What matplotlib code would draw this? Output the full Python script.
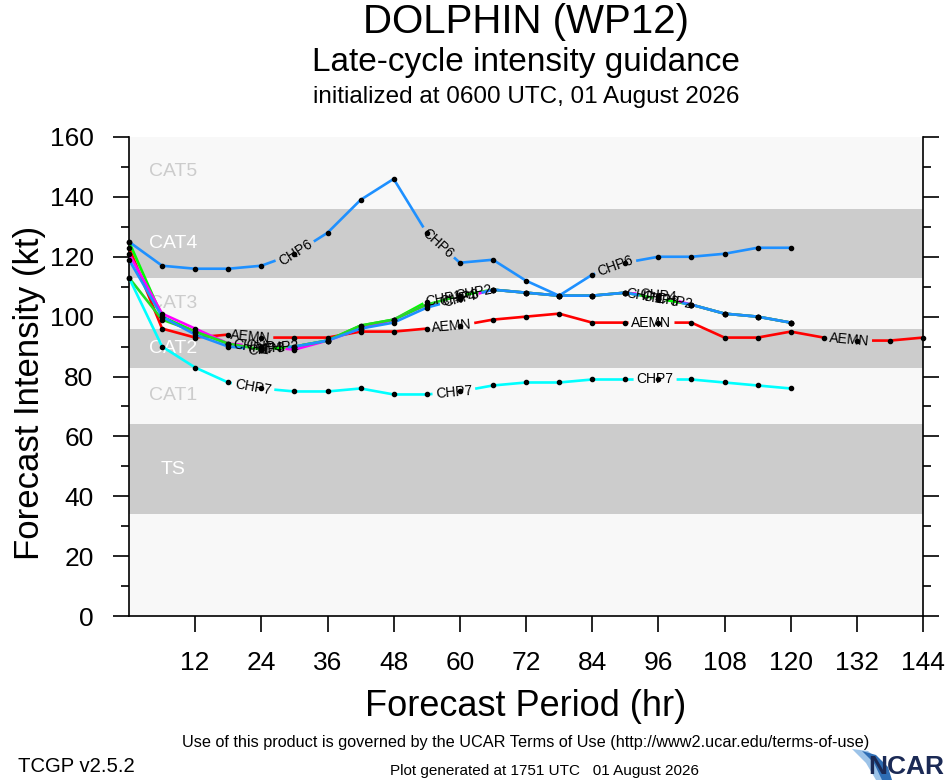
import math
import numpy as np
import matplotlib
matplotlib.use('Agg')
import matplotlib.pyplot as plt
from matplotlib.patches import Polygon

plt.rcParams['font.family'] = ['Liberation Sans', 'DejaVu Sans']

# ---------------- data ----------------
hours = list(range(0, 121, 6))
hours_aemn = list(range(0, 145, 6))

aemn = [123, 96, 93, 94, 93, 93, 93, 95, 95, 96, 97, 99, 100, 101, 98, 98, 98, 98, 93, 93, 95, 93, 92, 92, 93]
chp7 = [113, 90, 83, 78, 76, 75, 75, 76, 74, 74, 75, 77, 78, 78, 79, 79, 79, 79, 78, 77, 76]
chp6 = [125, 117, 116, 116, 117, 121, 128, 139, 146, 128, 118, 119, 112, 107, 114, 118, 120, 120, 121, 123, 123]
chp1 = [125, 100, 95, 91, 89, 90, 92, 97, 99, 105, 107, 109, 108, 107, 107, 108, 106, 104, 101, 100, 98]
chp4 = [121, 101, 96, 91, 90, 89, 92, 96, 99, 104, 106, 109, 108, 107, 107, 108, 107, 104, 101, 100, 98]
chp2 = [113, 99, 95, 91, 89, 90, 92, 97, 99, 104, 107, 109, 108, 107, 107, 108, 106, 104, 101, 100, 98]
chp3 = [119, 100, 94, 90, 89, 90, 92, 96, 98, 103, 106, 109, 108, 107, 107, 108, 106, 104, 101, 100, 98]

series = [
    ("AEMN", hours_aemn, aemn, "#ff0000"),
    ("CHP1", hours, chp1, "#00ff00"),
    ("CHP4", hours, chp4, "#ff00ff"),
    ("CHP2", hours, chp2, "#22dd22"),
    ("CHP3", hours, chp3, "#1e90ff"),
    ("CHP6", hours, chp6, "#1e90ff"),
    ("CHP7", hours, chp7, "#00ffff"),
]

bands_gray = [(34, 64), (83, 96), (113, 136)]
cat_names = ["CAT5", "CAT4", "CAT3", "CAT2", "CAT1", "TS"]
cat_levels = [148.5, 124.5, 104.5, 89.5, 73.5, 49]
cat_on_gray = [False, True, False, True, False, True]

xticks = list(range(12, 145, 12))
yticks = list(range(0, 161, 20))

# ---------------- figure ----------------
W, H = 946, 780
fig = plt.figure(figsize=(W / 100, H / 100), dpi=100)
ax = fig.add_axes([129 / W, 1 - 616 / H, (923 - 129) / W, (616 - 137) / H])
ax.set_xlim(0, 144)
ax.set_ylim(0, 160)
ax.set_facecolor('#f8f8f8')
for lo, hi in bands_gray:
    ax.axhspan(lo, hi, color='#cccccc', lw=0, zorder=0.5)
for name, lev, g in zip(cat_names, cat_levels, cat_on_gray):
    ax.text(8, lev, name, ha='center', va='center', fontsize=14,
            color='white' if g else '#cccccc', zorder=1)

renderer = fig.canvas.get_renderer()
inv = ax.transData.inverted()


def draw_labeled(x, y, color, name, first=177.0, step=202.0, fs=10):
    pts = ax.transData.transform(np.column_stack([x, y]).astype(float))
    seg = np.diff(pts, axis=0)
    seglen = np.hypot(seg[:, 0], seg[:, 1])
    cum = np.concatenate([[0.0], np.cumsum(seglen)])
    total = cum[-1]
    t = ax.text(0, 0, name, fontsize=fs)
    tw = t.get_window_extent(renderer).width
    t.remove()
    half = tw / 2 + 3
    centers = []
    s = first
    while s + half < total:
        centers.append(s)
        s += step

    def point_at(sv):
        i = int(np.searchsorted(cum, sv, side='right') - 1)
        i = min(max(i, 0), len(seglen) - 1)
        f = (sv - cum[i]) / seglen[i] if seglen[i] > 0 else 0.0
        return pts[i] + f * seg[i], i

    intervals = []
    start = 0.0
    for c in centers:
        intervals.append((start, c - half))
        start = c + half
    intervals.append((start, total))
    for a, b in intervals:
        if b <= a:
            continue
        pa, _ = point_at(a)
        pb, _ = point_at(b)
        verts = [pa] + [pts[k] for k in range(len(pts)) if a < cum[k] < b] + [pb]
        d = inv.transform(np.array(verts))
        ax.plot(d[:, 0], d[:, 1], color=color, lw=1.9, solid_capstyle='butt',
                solid_joinstyle='round', zorder=3, clip_on=False)
    ax.plot(x, y, 'o', color='black', ms=3.0, zorder=4, clip_on=False)
    for c in centers:
        p, i = point_at(c)
        ang = math.degrees(math.atan2(seg[i, 1], seg[i, 0]))
        dp = inv.transform(p)
        ax.text(dp[0], dp[1], name, fontsize=fs, rotation=ang, rotation_mode='anchor',
                ha='center', va='center', zorder=5, color='black')


for name, hx, vals, col in series:
    draw_labeled(hx, vals, col, name)

# axes styling
ax.set_yticks(yticks)
ax.set_yticks(list(range(10, 160, 20)), minor=True)
ax.set_xticks(xticks)
ax.set_xticks([], minor=True)
ax.tick_params(axis='both', which='major', direction='out', length=11.5, width=1.2,
               labelsize=19, pad=14)
ax.tick_params(axis='y', which='minor', direction='out', length=6, width=1.2)
ax.tick_params(axis='y', which='both', right=True, labelright=False)
for sp in ['left', 'bottom', 'right']:
    ax.spines[sp].set_linewidth(1.2)
ax.spines['top'].set_visible(False)

# titles
cx = (129 + 923) / 2 / W
fig.text(cx, 1 - 22 / H, "DOLPHIN (WP12)", ha='center', va='center', fontsize=29)
fig.text(cx, 1 - 62 / H, "Late-cycle intensity guidance", ha='center', va='center', fontsize=24)
fig.text(cx, 1 - 97 / H, "initialized at 0600 UTC, 01 August 2026", ha='center', va='center', fontsize=17.5)
fig.text(30 / W, 1 - 393 / H, "Forecast Intensity (kt)", rotation=90, ha='center', va='center', fontsize=25)
fig.text(cx, 1 - 707 / H, "Forecast Period (hr)", ha='center', va='center', fontsize=26)

narrow = ['Liberation Sans Narrow', 'Liberation Sans', 'DejaVu Sans']
fig.text(526 / W, 1 - 742 / H,
         "Use of this product is governed by the UCAR Terms of Use (http://www2.ucar.edu/terms-of-use)",
         ha='center', va='center', fontsize=11.7, family=narrow)
fig.text(18 / W, 1 - 766 / H, "TCGP v2.5.2", ha='left', va='center', fontsize=14.6, family=narrow)
fig.text(544 / W, 1 - 771 / H, "Plot generated at 1751 UTC   01 August 2026",
         ha='center', va='center', fontsize=11, family=narrow)

# NCAR logo (approximation)
sw1 = Polygon([[852 / W, 1 - 749 / H], [868 / W, 1 - 751 / H], [882 / W, 1 - 763 / H],
               [888 / W, 1 - 780 / H], [876 / W, 1 - 780 / H], [866 / W, 1 - 763 / H]],
              closed=True, transform=fig.transFigure, facecolor='#9cc3e8', edgecolor='none')
sw2 = Polygon([[862 / W, 1 - 751 / H], [876 / W, 1 - 755 / H], [888 / W, 1 - 767 / H],
               [892 / W, 1 - 780 / H], [882 / W, 1 - 780 / H], [874 / W, 1 - 763 / H]],
              closed=True, transform=fig.transFigure, facecolor='#2e6db4', edgecolor='none')
fig.patches.extend([sw1, sw2])
fig.text(944 / W, 1 - 767 / H, "NCAR", ha='right', va='center', fontsize=19,
         family=narrow, color='#1b2a55', fontweight='bold')

fig.savefig('out.png', dpi=100)
